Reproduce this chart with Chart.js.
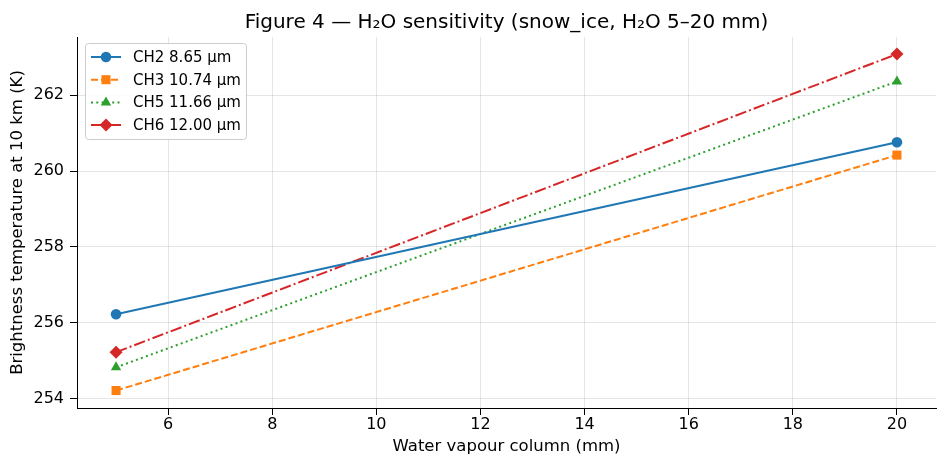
<!DOCTYPE html>
<html>
<head>
<meta charset="utf-8">
<script src="https://cdn.jsdelivr.net/npm/chart.js@4"></script>
<style>
  html, body { margin: 0; padding: 0; background: #fff; }
  #wrap { width: 947px; height: 468px; }
</style>
</head>
<body>
<div id="wrap"><canvas id="chart" width="947" height="468"></canvas></div>
<script>
/* ---------- Data ---------- */
const waterVapour = [5, 20];
const ch2 = [256.23, 260.76];
const ch3 = [254.22, 260.42];
const ch5 = [254.83, 262.36];
const ch6 = [255.23, 263.08];
const seriesNames = ['CH2 8.65 µm', 'CH3 10.74 µm', 'CH5 11.66 µm', 'CH6 12.00 µm'];
const xTicks = [6, 8, 10, 12, 14, 16, 18, 20];
const yTicks = [254, 256, 258, 260, 262];
const chartTitle = 'Figure 4 — H₂O sensitivity (snow_ice, H₂O 5–20 mm)';

const FONT = 'DejaVu Sans';
Chart.defaults.font.family = FONT;
Chart.defaults.color = '#000';

function pts(ys) {
  return waterVapour.map((x, i) => ({ x, y: ys[i] }));
}

function series(label, ys, color, dash, pointStyle, radius) {
  return {
    label,
    data: pts(ys),
    borderColor: color,
    backgroundColor: color,
    borderWidth: 2,
    borderDash: dash,
    pointStyle,
    pointRadius: radius,
    pointHoverRadius: radius,
    pointBorderWidth: 0,
    tension: 0
  };
}

/* ---------- title centred over the plot area (like matplotlib) ---------- */
const axesTitle = {
  id: 'axesTitle',
  afterDraw(chart) {
    const ctx = chart.ctx;
    const area = chart.chartArea;
    ctx.save();
    ctx.font = '20px ' + FONT;
    ctx.fillStyle = '#000';
    ctx.textAlign = 'center';
    ctx.textBaseline = 'alphabetic';
    ctx.fillText(chartTitle, (area.left + area.right) / 2, 28);
    ctx.restore();
  }
};

/* ---------- matplotlib-style legend (line + marker) ---------- */
const legendBox = {
  id: 'legendBox',
  afterDatasetsDraw(chart) {
    const ctx = chart.ctx;
    const area = chart.chartArea;
    const x0 = area.left + 8, y0 = area.top + 6;
    const w = 161, rowH = 22.7, h = 96;
    ctx.save();
    ctx.beginPath();
    ctx.roundRect(x0 + 0.5, y0 + 0.5, w, h, 3);
    ctx.fillStyle = 'rgba(255,255,255,0.85)';
    ctx.fill();
    ctx.strokeStyle = '#cccccc';
    ctx.lineWidth = 1;
    ctx.stroke();
    ctx.font = '15px ' + FONT;
    ctx.textBaseline = 'middle';
    chart.data.datasets.forEach((ds, i) => {
      const cy = y0 + 14 + i * rowH;
      ctx.beginPath();
      ctx.setLineDash(ds.borderDash || []);
      ctx.strokeStyle = ds.borderColor;
      ctx.lineWidth = ds.borderWidth;
      ctx.moveTo(x0 + 6, cy);
      ctx.lineTo(x0 + 36, cy);
      ctx.stroke();
      ctx.setLineDash([]);
      ctx.fillStyle = ds.backgroundColor;
      Chart.helpers.drawPoint(ctx, {
        pointStyle: ds.pointStyle,
        radius: ds.pointRadius,
        borderWidth: 0,
        rotation: 0
      }, x0 + 21, cy);
      ctx.fillStyle = '#000';
      ctx.fillText(ds.label, x0 + 48, cy + 1);
    });
    ctx.restore();
  }
};

new Chart(document.getElementById('chart'), {
  type: 'line',
  data: {
    datasets: [
      series(seriesNames[0], ch2, '#1f77b4', [], 'circle', 5.3),
      series(seriesNames[1], ch3, '#ff7f0e', [7, 3], 'rect', 6.4),
      series(seriesNames[2], ch5, '#2ca02c', [2, 3.3], 'triangle', 6),
      series(seriesNames[3], ch6, '#d62728', [11.5, 3, 2, 3], 'rectRot', 6.5)
    ]
  },
  options: {
    responsive: false,
    animation: false,
    layout: { padding: { left: 0, right: 11, top: 37, bottom: 0 } },
    plugins: {
      legend: { display: false },
      tooltip: { enabled: false },
      title: { display: false }
    },
    scales: {
      x: {
        type: 'linear',
        min: 4.25,
        max: 20.75,
        afterFit: s => { s.height = 60; },
        afterBuildTicks: s => { s.ticks = xTicks.map(v => ({ value: v })); },
        ticks: { color: '#000', font: { family: FONT, size: 16 }, padding: 0, maxRotation: 0 },
        grid: { color: 'rgba(0,0,0,0.1)', tickColor: '#000', tickLength: 7, drawTicks: true },
        border: { display: true, color: '#000', width: 1 },
        title: {
          display: true,
          text: 'Water vapour column (mm)',
          color: '#000',
          font: { family: FONT, size: 16.5 },
          padding: { top: 2, bottom: 11 }
        }
      },
      y: {
        type: 'linear',
        min: 253.76,
        max: 263.53,
        afterFit: s => { s.width = 77; },
        afterBuildTicks: s => { s.ticks = yTicks.map(v => ({ value: v })); },
        ticks: { color: '#000', font: { family: FONT, size: 16 }, padding: 6 },
        grid: { color: 'rgba(0,0,0,0.1)', tickColor: '#000', tickLength: 7, drawTicks: true },
        border: { display: true, color: '#000', width: 1 },
        title: {
          display: true,
          text: 'Brightness temperature at 10 km (K)',
          color: '#000',
          font: { family: FONT, size: 16.5 },
          padding: { top: 8, bottom: 2 }
        }
      }
    }
  },
  plugins: [legendBox, axesTitle]
});
</script>
</body>
</html>
